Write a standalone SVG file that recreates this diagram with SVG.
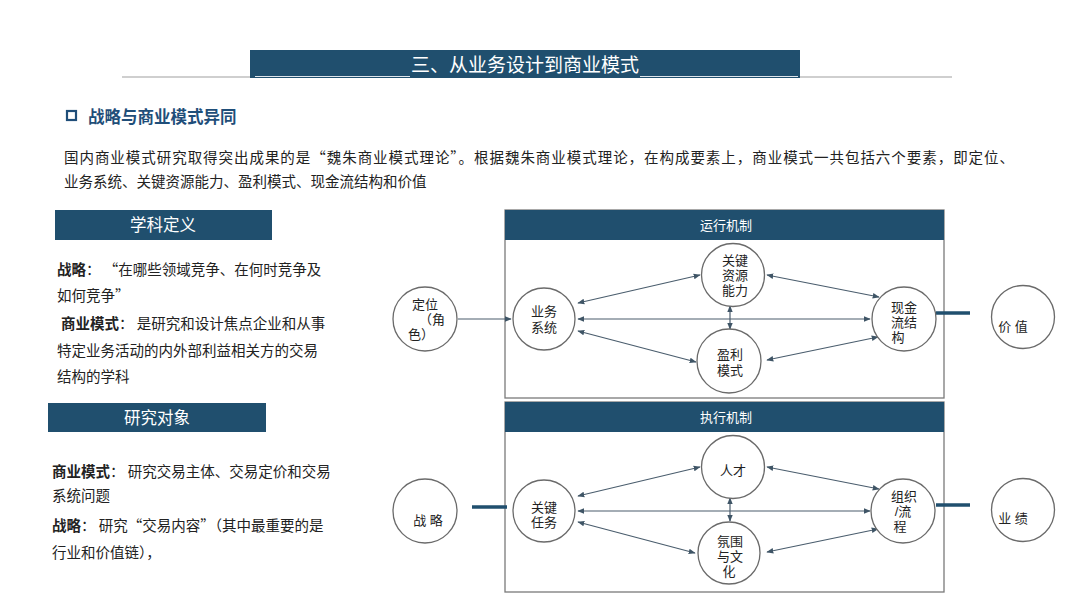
<svg xmlns="http://www.w3.org/2000/svg" width="1080" height="608" viewBox="0 0 1080 608">
<defs>
<marker id="ah" viewBox="0 0 10 10" refX="9" refY="5" markerWidth="7" markerHeight="7" orient="auto-start-reverse" markerUnits="userSpaceOnUse"><path d="M0,1 L10,5 L0,9 Z" fill="#3f5566"/></marker>
<style>
text{font-family:"Noto Sans CJK SC","Noto Sans",sans-serif;}
.band{fill:#204f6e;}
.body{font-size:14.5px;fill:#222;}
.b{font-weight:bold;}
.circ{fill:#fff;stroke:#6a6a6a;stroke-width:1.3;}
.ct{font-family:"Liberation Sans","Noto Sans CJK SC",sans-serif;font-size:13px;fill:#222;text-anchor:middle;}
.con{stroke:#4a5d6d;stroke-width:1.2;fill:none;marker-start:url(#ah);marker-end:url(#ah);}
.one{stroke:#4a5d6d;stroke-width:1.2;fill:none;marker-end:url(#ah);}
.thick{stroke:#204f6e;stroke-width:3.5;}
.frame{fill:#fff;stroke:#7a7a7a;stroke-width:1.3;}
</style>
</defs>
<rect width="1080" height="608" fill="#fff"/>

<!-- title -->
<g id="title">
<line x1="122" y1="77" x2="952" y2="77" stroke="#cfcfcf" stroke-width="2"/>
<rect x="250" y="50" width="550" height="28" class="band"/>
<text x="525" y="72" font-size="19" fill="#fff" text-anchor="middle">三、从业务设计到商业模式</text>
<line x1="255" y1="76.5" x2="410" y2="76.5" stroke="#dfe6ec" stroke-width="1"/>
<line x1="640" y1="76.5" x2="798" y2="76.5" stroke="#dfe6ec" stroke-width="1"/>
</g>

<g id="heading">
<rect x="67" y="111" width="9" height="9" fill="none" stroke="#1f4e79" stroke-width="2.2"/>
<text x="88" y="123" font-size="16.5" font-weight="bold" fill="#1f4e79">战略与商业模式异同</text>
</g>

<g id="intro">
<text x="64" y="163" class="body" textLength="950" lengthAdjust="spacing">国内商业模式研究取得突出成果的是“魏朱商业模式理论”。根据魏朱商业模式理论，在构成要素上，商业模式一共包括六个要素，即定位、</text>
<text x="64" y="187" class="body">业务系统、关键资源能力、盈利模式、现金流结构和价值</text>
</g>

<g id="xkdy">
<rect x="55" y="210" width="217" height="30" class="band"/>
<text x="163" y="231" font-size="16.5" fill="#fff" text-anchor="middle">学科定义</text>
<text x="57" y="275" class="body"><tspan class="b">战略</tspan>：  “在哪些领域竞争、在何时竞争及</text>
<text x="57" y="301" class="body">如何竞争”</text>
<text x="61" y="329" class="body"><tspan class="b">商业模式</tspan>： 是研究和设计焦点企业和从事</text>
<text x="57" y="356" class="body">特定业务活动的内外部利益相关方的交易</text>
<text x="57" y="382" class="body">结构的学科</text>
</g>

<g id="yjdx">
<rect x="48" y="403" width="218" height="29" class="band"/>
<text x="157" y="424" font-size="16.5" fill="#fff" text-anchor="middle">研究对象</text>
<text x="52" y="477" class="body"><tspan class="b">商业模式</tspan>： 研究交易主体、交易定价和交易</text>
<text x="52" y="501" class="body">系统问题</text>
<text x="52" y="531" class="body"><tspan class="b">战略</tspan>： 研究“交易内容”（其中最重要的是</text>
<text x="52" y="558" class="body">行业和价值链），</text>
</g>

<!-- frames -->
<g id="yxjz">
<rect x="505" y="210" width="439" height="188" class="frame"/>
<rect x="505" y="210" width="439" height="30" class="band"/>
<text x="700" y="230" font-size="13" fill="#fff">运行机制</text>
</g>
<g id="zxjz">
<rect x="505" y="402" width="439" height="190" class="frame"/>
<rect x="505" y="402" width="439" height="30" class="band"/>
<text x="700" y="422" font-size="13" fill="#fff">执行机制</text>
</g>

<!-- connectors -->
<g id="connectors">
<line x1="458" y1="319" x2="511" y2="319" class="one"/>
<line x1="578" y1="303" x2="700" y2="275" class="con"/>
<line x1="578" y1="319" x2="870" y2="319" class="con"/>
<line x1="578" y1="331" x2="696" y2="362" class="con"/>
<line x1="767" y1="275" x2="879" y2="297" class="con"/>
<line x1="730" y1="306" x2="730" y2="329" class="con"/>
<line x1="767" y1="360" x2="878" y2="337" class="con"/>
<line x1="936" y1="313" x2="970" y2="313" class="thick"/>

<line x1="472" y1="507" x2="507" y2="507" class="thick"/>
<line x1="578" y1="496" x2="700" y2="467" class="con"/>
<line x1="578" y1="511" x2="870" y2="511" class="con"/>
<line x1="578" y1="522" x2="695" y2="553" class="con"/>
<line x1="767" y1="467" x2="879" y2="489" class="con"/>
<line x1="730" y1="498" x2="730" y2="521" class="con"/>
<line x1="767" y1="552" x2="878" y2="529" class="con"/>
<line x1="936" y1="505" x2="970" y2="505" class="thick"/>
</g>

<!-- top nodes -->
<g id="n-dingwei">
<circle cx="425" cy="319" r="32" class="circ"/>
<text class="ct"><tspan x="425" y="309">定位</tspan><tspan x="432" y="324">（角</tspan><tspan x="421" y="339">色）</tspan></text>
</g>
<g id="n-ywxt">
<circle cx="544" cy="319" r="31" class="circ"/>
<text class="ct"><tspan x="544" y="316">业务</tspan><tspan x="544" y="332">系统</tspan></text>
</g>
<g id="n-gjzy">
<circle cx="733" cy="275" r="31.5" class="circ"/>
<text class="ct"><tspan x="735" y="265">关键</tspan><tspan x="735" y="280">资源</tspan><tspan x="735" y="295">能力</tspan></text>
</g>
<g id="n-ylms">
<circle cx="729" cy="361" r="32" class="circ"/>
<text class="ct"><tspan x="730" y="359">盈利</tspan><tspan x="730" y="375">模式</tspan></text>
</g>
<g id="n-xjl">
<circle cx="904" cy="319" r="32" class="circ"/>
<text class="ct"><tspan x="904" y="312">现金</tspan><tspan x="904" y="327">流结</tspan><tspan x="898" y="342">构</tspan></text>
</g>
<g id="n-jiazhi">
<circle cx="1023" cy="317" r="31.5" class="circ"/>
<text x="1013" y="331" class="ct">价 值</text>
</g>

<!-- bottom nodes -->
<g id="n-zhanlue">
<circle cx="425" cy="511" r="32" class="circ"/>
<text x="428" y="525" class="ct">战 略</text>
</g>
<g id="n-gjrw">
<circle cx="544" cy="511" r="31" class="circ"/>
<text class="ct"><tspan x="544" y="512">关键</tspan><tspan x="544" y="527">任务</tspan></text>
</g>
<g id="n-rencai">
<circle cx="733" cy="467" r="31.5" class="circ"/>
<text x="733" y="475" class="ct">人才</text>
</g>
<g id="n-fwwh">
<circle cx="729" cy="553" r="31" class="circ"/>
<text class="ct"><tspan x="730" y="546">氛围</tspan><tspan x="730" y="561">与文</tspan><tspan x="729" y="576">化</tspan></text>
</g>
<g id="n-zzlc">
<circle cx="903" cy="511" r="32" class="circ"/>
<text class="ct"><tspan x="904" y="501">组织</tspan><tspan x="903" y="516">/流</tspan><tspan x="900" y="531">程</tspan></text>
</g>
<g id="n-yeji">
<circle cx="1023" cy="510" r="31.5" class="circ"/>
<text x="1013" y="523" class="ct">业 绩</text>
</g>
</svg>
